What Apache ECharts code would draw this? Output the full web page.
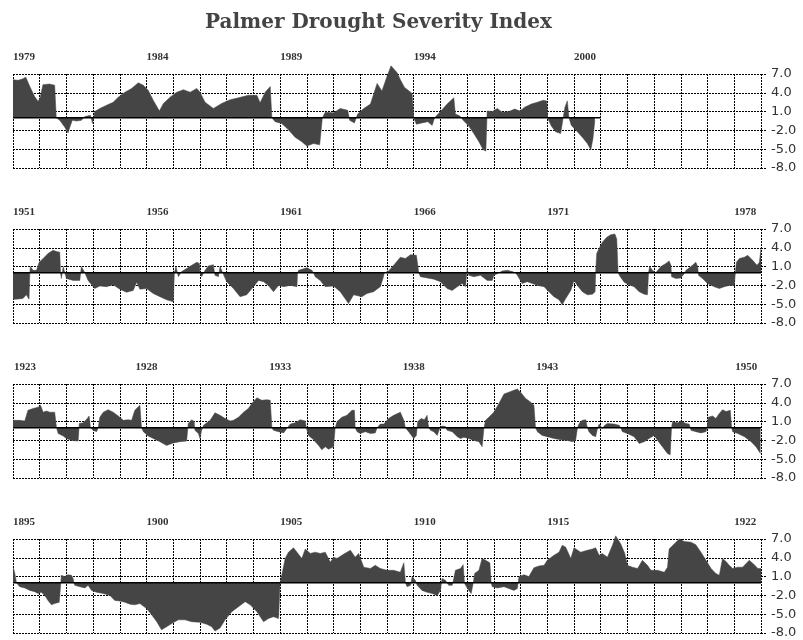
<!DOCTYPE html>
<html><head><meta charset="utf-8">
<script src="https://cdn.jsdelivr.net/npm/echarts@6/dist/echarts.min.js"></script>
<style>html,body{margin:0;padding:0;background:#fff}#c{width:803px;height:640px}</style>
</head><body><div id="c"></div>
<script>
const chartTitle = 'Palmer Drought Severity Index';
const startYears = [1979, 1951, 1923, 1895];
const recordEnds = [2001, 1979, 1951, 1923];
const labels1979 = [1979, 1984, 1989, 1994, 2000];
const labels1951 = [1951, 1956, 1961, 1966, 1971, 1978];
const labels1923 = [1923, 1928, 1933, 1938, 1943, 1950];
const labels1895 = [1895, 1900, 1905, 1910, 1915, 1922];
const yMin = -8, yMax = 7, yStep = 3;

// [years after panel start, PDSI]
const pdsi1979 = [[0,6.1],[0.19,6.0],[0.35,6.2],[0.48,6.5],[0.63,5.0],[0.81,3.4],[0.94,2.6],[1.02,3.3],[1.12,5.3],[1.37,5.4],[1.56,5.2],[1.62,0],[1.75,-0.4],[1.94,-1.5],[2.06,-2.4],[2.15,-1.2],[2.22,-0.4],[2.38,-0.5],[2.56,-0.4],[2.69,0.2],[2.9,0.4],[2.98,-0.9],[3.06,1.0],[3.25,1.5],[3.5,2.0],[3.75,2.5],[3.94,3.3],[4.19,4.1],[4.44,4.7],[4.69,5.6],[4.88,5.2],[5.06,4.4],[5.25,2.8],[5.48,1.1],[5.63,2.3],[5.88,3.3],[6.13,4.1],[6.38,4.5],[6.63,4.1],[6.88,4.7],[7.0,4.1],[7.19,2.5],[7.5,1.5],[7.81,2.3],[8.13,2.9],[8.44,3.2],[8.81,3.6],[9.13,3.6],[9.25,2.4],[9.44,4.1],[9.63,5.0],[9.69,0],[9.81,-0.6],[10.06,-0.9],[10.31,-1.9],[10.56,-3.1],[10.81,-3.8],[11.0,-4.5],[11.25,-4.1],[11.48,-4.3],[11.58,0],[11.69,0.9],[12.0,0.8],[12.25,1.5],[12.53,1.2],[12.6,-0.4],[12.78,-0.8],[12.9,0.6],[13.13,1.5],[13.38,2.2],[13.63,5.5],[13.81,4.3],[14.0,6.6],[14.15,8.3],[14.38,7.2],[14.5,6.1],[14.65,4.9],[14.94,3.9],[15.0,0],[15.1,-1.0],[15.31,-0.8],[15.53,-0.6],[15.69,-1.2],[15.78,0],[16.0,1.0],[16.25,2.2],[16.5,3.2],[16.56,0.6],[16.73,0.3],[16.85,-0.4],[17.06,-1.3],[17.25,-2.5],[17.44,-3.8],[17.6,-5.1],[17.7,-5.3],[17.75,1.1],[17.94,1.0],[18.13,1.5],[18.31,0.9],[18.56,1.0],[18.78,1.4],[18.98,1.1],[19.15,1.7],[19.4,2.2],[19.63,2.5],[19.85,2.8],[19.98,2.7],[20.01,0],[20.15,-1.3],[20.31,-2.2],[20.5,-2.5],[20.58,-0.4],[20.66,1.7],[20.75,2.7],[20.81,0],[20.9,-1.2],[21.1,-2.1],[21.31,-3.1],[21.5,-4.1],[21.63,-5.1],[21.71,-3.3],[21.78,-0.4]];

const pdsi1951 = [[0,-4.2],[0.1,-4.2],[0.37,-4.1],[0.5,-3.5],[0.6,-4.2],[0.63,0],[0.65,1.0],[0.75,0.4],[0.88,0.4],[0.98,1.7],[1.13,2.3],[1.31,3.1],[1.5,3.6],[1.63,3.4],[1.75,3.3],[1.78,0],[1.81,-0.9],[1.88,1.0],[1.94,0],[2.0,-0.9],[2.25,-1.2],[2.5,-1.2],[2.56,1.0],[2.69,0],[2.81,-1.2],[3.06,-2.5],[3.25,-2.1],[3.5,-2.2],[3.75,-1.9],[4.0,-2.6],[4.25,-3.1],[4.5,-2.8],[4.63,-1.5],[4.75,-2.6],[5.0,-2.5],[5.25,-3.3],[5.5,-3.8],[5.75,-4.3],[6.0,-4.6],[6.04,0],[6.1,1.0],[6.19,-0.6],[6.31,0.2],[6.5,0.7],[6.69,1.2],[6.88,1.7],[6.98,1.5],[7.0,0],[7.06,-0.6],[7.19,0.4],[7.31,1.1],[7.5,1.3],[7.56,-0.4],[7.69,-0.6],[7.75,1.0],[7.85,0],[8.0,-1.4],[8.25,-2.5],[8.5,-3.8],[8.75,-3.5],[9.0,-2.2],[9.19,-1.2],[9.38,-1.4],[9.56,-2.0],[9.75,-3.0],[9.94,-2.0],[10.13,-2.2],[10.38,-2.0],[10.63,-2.2],[10.65,0],[10.69,0.4],[11.0,0.8],[11.19,0.4],[11.25,0],[11.31,-0.6],[11.5,-1.2],[11.69,-2.2],[12.0,-2.1],[12.25,-3.0],[12.56,-4.9],[12.75,-3.5],[13.06,-3.8],[13.25,-3.3],[13.5,-3.0],[13.75,-2.2],[13.85,-0.9],[13.9,0],[14.06,0.3],[14.25,1.2],[14.5,2.5],[14.69,2.3],[14.88,2.9],[15.1,2.8],[15.19,0],[15.25,-0.6],[15.5,-0.8],[15.75,-1.0],[16.0,-1.4],[16.25,-2.5],[16.44,-2.8],[16.63,-2.2],[16.81,-1.7],[16.94,-2.2],[17.0,0.7],[17.06,-0.4],[17.25,-0.6],[17.5,-0.4],[17.75,-1.2],[17.94,-1.2],[18.0,-0.4],[18.19,0],[18.31,0.3],[18.5,0.4],[18.69,0.2],[18.81,0],[18.88,-0.4],[19.06,-1.7],[19.25,-1.4],[19.44,-1.7],[19.63,-2.0],[19.88,-2.2],[20.06,-3.0],[20.25,-3.8],[20.44,-4.3],[20.56,-5.1],[20.69,-4.1],[20.88,-2.8],[21.0,-1.2],[21.13,-2.0],[21.31,-3.0],[21.5,-3.5],[21.69,-3.4],[21.79,-3.0],[21.81,0],[21.85,3.1],[21.94,3.9],[22.06,4.9],[22.23,5.7],[22.38,6.1],[22.53,6.2],[22.6,5.4],[22.65,0],[22.73,-0.6],[22.88,-1.5],[23.06,-1.9],[23.25,-2.2],[23.44,-3.0],[23.63,-3.4],[23.75,-3.5],[23.79,0],[23.83,1.0],[23.94,0.4],[24.06,0],[24.25,1.0],[24.44,1.5],[24.56,1.9],[24.63,1.2],[24.65,-0.6],[24.81,-0.9],[25.0,-0.8],[25.13,-0.1],[25.19,0.4],[25.38,1.0],[25.56,1.7],[25.63,1.0],[25.66,-0.4],[25.81,-0.9],[26.0,-1.7],[26.25,-2.2],[26.44,-2.5],[26.63,-2.2],[26.81,-2.0],[27.0,-2.0],[27.04,0],[27.08,1.7],[27.19,2.3],[27.38,2.5],[27.5,2.8],[27.69,2.0],[27.85,1.2],[27.94,1.7],[28.0,4.0]];

const pdsi1923 = [[0,1.2],[0.25,1.2],[0.44,1.1],[0.56,2.8],[0.75,3.1],[0.94,3.3],[1.03,3.6],[1.13,2.5],[1.25,2.7],[1.38,2.5],[1.56,2.5],[1.63,0],[1.69,-0.9],[1.88,-1.3],[2.0,-1.7],[2.19,-2.0],[2.44,-2.1],[2.48,0.7],[2.63,0.8],[2.78,1.5],[2.85,1.9],[2.9,0],[3.0,-0.4],[3.13,-0.6],[3.19,0],[3.25,1.7],[3.38,2.5],[3.56,2.9],[3.75,2.5],[3.94,1.9],[4.13,1.2],[4.31,1.3],[4.44,1.2],[4.56,2.8],[4.75,3.6],[4.81,0],[4.88,-0.6],[5.06,-1.3],[5.25,-1.7],[5.5,-2.2],[5.75,-2.8],[6.0,-2.4],[6.25,-2.2],[6.5,-2.1],[6.56,0.7],[6.69,1.3],[6.78,1.0],[6.81,-0.4],[6.94,-0.9],[7.0,-1.7],[7.06,-0.4],[7.13,0.4],[7.19,0.4],[7.38,1.2],[7.56,2.4],[7.75,2.0],[7.94,1.5],[8.13,1.1],[8.25,1.2],[8.44,1.7],[8.63,2.5],[8.81,3.1],[8.94,3.9],[9.13,4.8],[9.31,4.4],[9.5,4.5],[9.63,4.4],[9.69,0],[9.75,-0.4],[9.94,-0.6],[10.13,-0.8],[10.25,-0.1],[10.38,0.6],[10.56,0.8],[10.75,1.3],[10.94,1.1],[10.98,0],[11.06,-1.2],[11.25,-1.9],[11.44,-2.8],[11.56,-3.5],[11.69,-3.0],[11.81,-3.4],[12.0,-3.0],[12.06,0],[12.13,1.0],[12.31,1.7],[12.5,2.0],[12.69,2.8],[12.78,2.8],[12.81,0],[12.88,-0.6],[13.0,-0.9],[13.19,-0.6],[13.38,-0.9],[13.56,-0.8],[13.63,0],[13.75,0.6],[13.88,0.6],[14.06,1.5],[14.25,2.0],[14.5,2.5],[14.63,1.2],[14.69,0],[14.81,-0.6],[15.0,-1.7],[15.1,-1.2],[15.15,1.0],[15.28,1.5],[15.4,1.3],[15.5,2.0],[15.56,0],[15.63,-0.4],[15.75,-0.6],[15.88,-1.2],[15.98,0],[16.06,0.3],[16.19,0.2],[16.25,-0.4],[16.44,-0.6],[16.63,-1.4],[16.75,-1.7],[16.88,-1.5],[17.06,-1.7],[17.25,-2.0],[17.44,-2.2],[17.56,-3.0],[17.63,0],[17.69,1.2],[17.81,1.7],[18.0,2.5],[18.19,3.9],[18.38,5.4],[18.56,5.7],[18.75,6.0],[18.88,6.2],[19.0,5.7],[19.19,4.7],[19.38,4.1],[19.5,3.6],[19.56,0],[19.63,-0.6],[19.81,-1.2],[20.0,-1.4],[20.25,-1.7],[20.5,-1.9],[20.75,-2.0],[20.94,-2.2],[21.06,-2.0],[21.13,0],[21.19,0.7],[21.31,1.2],[21.44,1.3],[21.5,0],[21.56,-0.6],[21.69,-1.2],[21.81,-1.4],[21.88,-0.1],[21.94,0.6],[22.06,-0.1],[22.15,0.4],[22.25,0.7],[22.5,0.6],[22.69,0.4],[22.75,0],[22.81,-0.6],[23.0,-0.9],[23.25,-1.4],[23.44,-2.5],[23.63,-2.2],[23.81,-1.7],[24.0,-1.2],[24.13,-2.0],[24.31,-3.0],[24.5,-4.1],[24.6,-4.3],[24.65,0],[24.69,1.0],[24.88,0.8],[25.0,1.1],[25.19,0.7],[25.31,0.6],[25.38,-0.4],[25.56,-0.6],[25.75,-0.8],[25.94,-0.6],[25.98,0],[26.03,1.7],[26.19,1.9],[26.31,1.5],[26.44,2.3],[26.56,2.9],[26.69,2.6],[26.85,2.8],[26.9,0],[26.94,-0.6],[27.13,-0.9],[27.38,-1.4],[27.63,-2.2],[27.81,-3.0],[27.98,-4.1]];

const pdsi1895 = [[0,2.5],[0.06,1.7],[0.13,0],[0.25,-0.6],[0.44,-0.8],[0.63,-1.2],[0.81,-1.4],[0.94,-1.7],[1.06,-1.5],[1.19,-2.0],[1.31,-2.8],[1.44,-3.5],[1.56,-3.3],[1.73,-3.1],[1.79,0],[1.81,1.2],[1.94,1.0],[2.06,1.3],[2.19,1.2],[2.25,0.7],[2.28,0],[2.31,-0.4],[2.5,-0.6],[2.69,-0.8],[2.81,-0.4],[2.94,-1.2],[3.13,-1.5],[3.38,-1.7],[3.63,-2.0],[3.81,-2.8],[4.0,-2.9],[4.19,-3.1],[4.38,-3.4],[4.56,-3.5],[4.75,-3.3],[5.0,-4.1],[5.19,-5.1],[5.38,-6.2],[5.56,-7.5],[5.75,-7.0],[5.94,-6.5],[6.19,-5.9],[6.44,-5.9],[6.69,-6.2],[7.0,-6.3],[7.25,-6.6],[7.44,-7.0],[7.56,-7.7],[7.75,-7.2],[7.94,-5.9],[8.19,-4.6],[8.44,-3.8],[8.69,-3.0],[8.88,-3.5],[9.13,-4.6],[9.38,-6.2],[9.56,-5.7],[9.75,-5.4],[9.94,-5.7],[10.0,0],[10.06,1.2],[10.19,3.9],[10.31,4.9],[10.5,5.6],[10.63,4.9],[10.81,3.9],[10.94,5.4],[11.13,4.7],[11.31,4.9],[11.5,4.7],[11.69,4.9],[11.88,3.3],[12.0,4.1],[12.13,3.9],[12.31,4.4],[12.5,4.9],[12.63,5.2],[12.81,4.1],[12.94,4.7],[13.13,2.5],[13.38,2.3],[13.56,2.8],[13.75,2.3],[14.0,2.0],[14.25,2.0],[14.5,1.7],[14.63,3.2],[14.69,0],[14.75,-0.6],[14.88,-0.4],[14.94,1.0],[15.06,0.4],[15.13,-0.4],[15.31,-1.2],[15.5,-1.5],[15.69,-1.7],[15.88,-2.0],[16.0,-1.2],[16.06,0.7],[16.19,0.4],[16.31,-0.4],[16.44,-0.4],[16.5,0.7],[16.56,2.0],[16.75,2.3],[16.85,2.9],[16.9,0],[16.94,-0.4],[17.06,-1.2],[17.15,-1.7],[17.23,0],[17.28,1.5],[17.44,2.0],[17.56,3.9],[17.69,3.6],[17.85,3.2],[17.9,0],[17.94,-0.6],[18.13,-0.8],[18.38,-0.6],[18.56,-0.9],[18.75,-1.2],[18.88,-0.9],[18.94,1.0],[19.13,1.3],[19.31,1.0],[19.5,2.4],[19.69,2.7],[19.88,2.8],[20.0,3.6],[20.25,4.4],[20.44,4.9],[20.56,6.0],[20.69,5.7],[20.88,3.9],[21.0,5.6],[21.25,4.9],[21.5,5.2],[21.69,5.4],[21.81,5.6],[21.94,4.4],[22.06,4.7],[22.25,4.1],[22.44,6.0],[22.56,7.5],[22.75,6.2],[22.9,4.7],[23.0,2.8],[23.19,2.5],[23.38,2.3],[23.56,3.6],[23.75,2.8],[23.88,2.0],[24.13,2.0],[24.38,1.7],[24.5,2.5],[24.56,5.4],[24.75,6.2],[24.94,7.0],[25.13,6.6],[25.38,6.5],[25.56,6.1],[25.75,4.9],[25.94,3.6],[26.13,2.3],[26.31,1.5],[26.44,1.2],[26.56,3.9],[26.69,3.4],[26.81,2.8],[26.94,2.3],[27.13,2.5],[27.31,2.5],[27.56,3.6],[27.75,2.9],[27.88,2.3],[28.0,2.3]];

const panelSeries = [pdsi1979, pdsi1951, pdsi1923, pdsi1895];
const panelLabels = [labels1979, labels1951, labels1923, labels1895];
const centeredLabelPanel = 2;

const GRID_TOP = 74, GRID_STEP = 155, GRID_H = 94;
const yearFont = {fontFamily: 'Liberation Serif', fontWeight: 'bold', fontSize: 11, color: '#333'};
const dash = {color: '#000', type: [2, 1], width: 1};

const grids = [], xAxes = [], yAxes = [], series = [];
startYears.forEach((start, i) => {
  const labels = panelLabels[i];
  const centered = i === centeredLabelPanel;
  grids.push({left: 13, right: 42, top: GRID_TOP + GRID_STEP * i, height: GRID_H});
  xAxes.push({
    type: 'value', gridIndex: i, position: 'top', min: start, max: start + 28, interval: 1,
    axisLine: {show: false},
    axisTick: {show: true, length: 12, lineStyle: dash},
    splitLine: {show: true, lineStyle: dash},
    axisLabel: {
      show: true, margin: 11, align: centered ? 'center' : 'left',
      formatter: v => {
        const y = Math.round(v);
        if (labels.indexOf(y) < 0) return '';
        if (centered && (y === labels[0] || y === labels[labels.length - 1])) return '{s|' + y + '}';
        return '{n|' + y + '}';
      },
      rich: {n: Object.assign({}, yearFont), s: Object.assign({padding: [0, 0, 0, 24]}, yearFont)}
    }
  });
  yAxes.push({
    type: 'value', gridIndex: i, position: 'right', min: yMin, max: yMax, interval: yStep,
    axisLine: {show: false},
    axisTick: {show: true, length: 5, lineStyle: dash},
    splitLine: {show: true, lineStyle: dash},
    axisLabel: {margin: 10, formatter: v => v.toFixed(1), fontFamily: 'DejaVu Sans', fontSize: 13, color: '#333'}
  });
  series.push({
    type: 'line', xAxisIndex: i, yAxisIndex: i, clip: false, showSymbol: false, silent: true,
    data: panelSeries[i].map(p => [start + p[0], p[1]]),
    lineStyle: {width: 0.5, color: '#454545'},
    areaStyle: {color: '#454545', opacity: 1},
    z: 2
  });
  series.push({
    type: 'line', xAxisIndex: i, yAxisIndex: i, showSymbol: false, silent: true,
    data: [[start, 0], [recordEnds[i], 0]],
    lineStyle: {width: 1.5, color: '#000'}, z: 3
  });
});

const chart = echarts.init(document.getElementById('c'), null, {renderer: 'canvas'});
chart.setOption({
  animation: false,
  backgroundColor: '#fff',
  title: {text: chartTitle, left: 200, top: 8,
    textStyle: {fontFamily: 'DejaVu Serif', fontWeight: 'bold', fontSize: 20, color: '#444'}},
  grid: grids, xAxis: xAxes, yAxis: yAxes, series: series
});
</script></body></html>
